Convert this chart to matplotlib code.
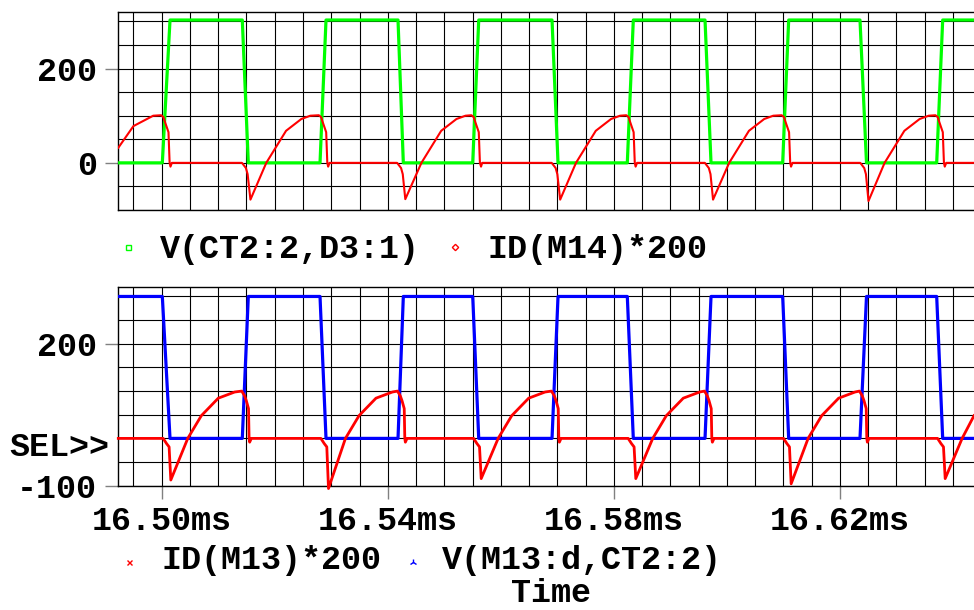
import matplotlib
matplotlib.use("Agg")
import matplotlib.pyplot as plt
from matplotlib.lines import Line2D
from matplotlib.ticker import MultipleLocator, FixedLocator
import numpy as np

# ---- time base: sample times are microseconds after 16.50 ms ----
t0_ms = 16.50
t_start_us, t_end_us = -7.68, 143.72

# switching edges shared by the two drain/transformer voltages
edge_t_us = [-7.68, 0.11, 1.47, 14.26, 15.32, 28.01, 29.07, 41.81, 42.75,
             55.03, 56.09, 69.06, 70.12, 82.38, 83.44, 96.13, 97.19,
             109.87, 110.93, 123.55, 124.70, 137.12, 138.18, 143.72]
v_ct2_d3 = [0, 0, 303, 303, 0, 0, 303, 303, 0, 0, 303, 303, 0, 0, 303, 303,
            0, 0, 303, 303, 0, 0, 303, 303]
v_m13_ct2 = [300, 300, 0, 0, 300, 300, 0, 0, 300, 300, 0, 0, 300, 300, 0, 0,
             300, 300, 0, 0, 300, 300, 0, 0]

# ID(M14)*200
id14_t_us = [-7.68, -5.0, -1.5, -0.1, 0.3, 0.6, 1.2, 1.4, 1.55, 1.8,
             14.2, 14.9, 15.2, 15.7, 18.5, 22.0, 24.7, 26.3, 27.8, 28.2, 28.5, 29.1, 29.3, 29.45, 29.7,
             41.65, 42.35, 42.65, 43.1, 45.95, 49.45, 52.15, 53.75, 54.8, 55.2, 55.5, 56.1, 56.3, 56.5, 56.7,
             69.0, 69.7, 70.0, 70.5, 73.3, 76.8, 79.5, 81.1, 82.2, 82.6, 82.9, 83.5, 83.7, 83.85, 84.1,
             96.1, 96.8, 97.1, 97.55, 100.4, 103.9, 106.6, 108.2, 109.7, 110.1, 110.4, 111.0, 111.2, 111.35, 111.6,
             123.6, 124.3, 124.6, 125.05, 127.9, 131.4, 134.1, 135.7, 136.9, 137.3, 137.6, 138.2, 138.4, 138.55, 138.8,
             143.72]
id14_v = [32, 78, 100, 101, 97, 86, 65, 0, -8, 0,
          0, -11, -24, -78, 0, 68, 93, 100, 101, 97, 86, 65, 0, -8, 0,
          0, -11, -24, -77, 0, 68, 93, 100, 101, 97, 86, 65, 0, -8, 0,
          0, -11, -24, -78, 0, 68, 93, 100, 101, 97, 86, 65, 0, -8, 0,
          0, -11, -24, -78, 0, 68, 93, 100, 101, 97, 86, 65, 0, -8, 0,
          0, -11, -24, -81, 0, 68, 93, 100, 101, 97, 86, 65, 0, -8, 0,
          0]

# ID(M13)*200
id13_t_us = [-7.68,
             0.26, 0.86, 1.31, 1.61, 4.61, 7.01, 10.01, 12.91, 14.16, 14.66, 14.96, 15.36, 15.46, 15.56, 15.86,
             28.16, 28.76, 29.21, 29.51, 32.51, 34.91, 37.91, 40.81, 41.71, 42.21, 42.51, 42.91, 43.01, 43.11, 43.41,
             55.18, 55.78, 56.23, 56.53, 59.53, 61.93, 64.93, 67.83, 68.96, 69.46, 69.76, 70.16, 70.26, 70.36, 70.66,
             82.53, 83.13, 83.58, 83.88, 86.88, 89.28, 92.28, 95.18, 96.03, 96.53, 96.83, 97.23, 97.33, 97.43, 97.73,
             110.02, 110.62, 111.07, 111.37, 114.37, 116.77, 119.77, 122.67, 123.45, 123.95, 124.25, 124.65, 124.75, 124.85, 125.15,
             137.27, 137.87, 138.32, 138.62, 141.62, 143.72]
id13_v = [0,
          0, -11, -18, -88, 0, 48, 85, 98, 100, 90, 80, 63, 0, -8, 0,
          0, -11, -18, -106, 0, 48, 85, 98, 100, 90, 80, 63, 0, -8, 0,
          0, -11, -18, -85, 0, 48, 85, 98, 100, 90, 80, 63, 0, -8, 0,
          0, -11, -18, -85, 0, 48, 85, 98, 100, 90, 80, 63, 0, -8, 0,
          0, -11, -18, -96, 0, 48, 85, 98, 100, 90, 80, 63, 0, -8, 0,
          0, -11, -18, -85, 0, 48]

x_ticks_ms = [16.50, 16.54, 16.58, 16.62]
x_tick_labels = ["16.50ms", "16.54ms", "16.58ms", "16.62ms"]
top_y_ticks = [0, 200]
top_y_labels = ["0", "200"]
bot_y_ticks = [-100, 200]
bot_y_labels = ["-100", "200"]
y_range = (-100, 320)

GREEN, RED, BLUE = "#00ff00", "#ff0000", "#0000ff"


def to_ms(us):
    return t0_ms + np.asarray(us, dtype=float) / 1000.0


plt.rcParams["font.family"] = ["Liberation Mono", "DejaVu Sans Mono"]
plt.rcParams["font.weight"] = "bold"
plt.rcParams["font.size"] = 24

W, H = 974, 610
fig = plt.figure(figsize=(W / 100, H / 100), dpi=100)


def panel(left, top, bottom):
    return fig.add_axes([left / W, 1 - bottom / H, 1 - left / W, (bottom - top) / H])


def style(ax, yticks, ylabels, show_x):
    ax.set_xlim(to_ms(t_start_us), to_ms(t_end_us))
    ax.set_ylim(*y_range)
    ax.xaxis.set_major_locator(FixedLocator(x_ticks_ms))
    ax.xaxis.set_minor_locator(MultipleLocator(0.005))
    ax.yaxis.set_major_locator(FixedLocator(yticks))
    ax.yaxis.set_minor_locator(MultipleLocator(50))
    ax.set_yticklabels(ylabels)
    if show_x:
        ax.set_xticklabels(x_tick_labels)
        ax.tick_params(axis="x", which="major", length=9.5, width=1.0,
                       color="#808080", pad=5)
    else:
        ax.tick_params(axis="x", which="major", length=0, labelbottom=False)
    ax.tick_params(axis="y", which="major", length=9.5, width=1.0,
                   color="#808080", pad=6)
    ax.tick_params(which="minor", length=0)
    ax.grid(True, which="both", color="#000000", linewidth=0.8)
    ax.set_axisbelow(True)
    for side in ("left", "top", "bottom"):
        ax.spines[side].set_color("#000000")
        ax.spines[side].set_linewidth(1.0)
    ax.spines["right"].set_visible(False)


ax1 = panel(118.3, 12.0, 210.0)
style(ax1, top_y_ticks, top_y_labels, show_x=False)
ax1.plot(to_ms(edge_t_us), v_ct2_d3, color=GREEN, linewidth=2.3, zorder=3)
ax1.plot(to_ms(id14_t_us), id14_v, color=RED, linewidth=1.5, zorder=4)

ax2 = panel(118.3, 287.0, 485.7)
style(ax2, bot_y_ticks, bot_y_labels, show_x=True)
ax2.plot(to_ms(edge_t_us), v_m13_ct2, color=BLUE, linewidth=2.3, zorder=3)
ax2.plot(to_ms(id13_t_us), id13_v, color=RED, linewidth=2.0, zorder=4,
         clip_on=False)


def ftext(x, y, s, **kw):
    fig.text(x / W, 1 - y / H, s, **kw)


def fmark(x, y, **kw):
    fig.add_artist(Line2D([x / W], [1 - y / H], transform=fig.transFigure,
                          linestyle="none", **kw))


# legends under each panel
fmark(127.8, 247, marker="s", ms=3.6, mfc="none", mec=GREEN, mew=1.0)
ftext(159.6, 258, "V(CT2:2,D3:1)", ha="left", va="baseline")
fmark(455, 247, marker="D", ms=3.2, mfc="none", mec=RED, mew=1.0)
ftext(487.5, 258, "ID(M14)*200", ha="left", va="baseline")

fmark(129, 562, marker="x", ms=3.6, mec=RED, mew=1.0)
ftext(161.3, 569, "ID(M13)*200", ha="left", va="baseline")
fmark(412.5, 562, marker="2", ms=5, mec=BLUE, mew=1.0)
ftext(441.7, 569, "V(M13:d,CT2:2)", ha="left", va="baseline")

ftext(550.6, 602, "Time", ha="center", va="baseline")
ftext(9.3, 456.5, "SEL>>", ha="left", va="baseline")

fig.savefig("out.png", dpi=100)
